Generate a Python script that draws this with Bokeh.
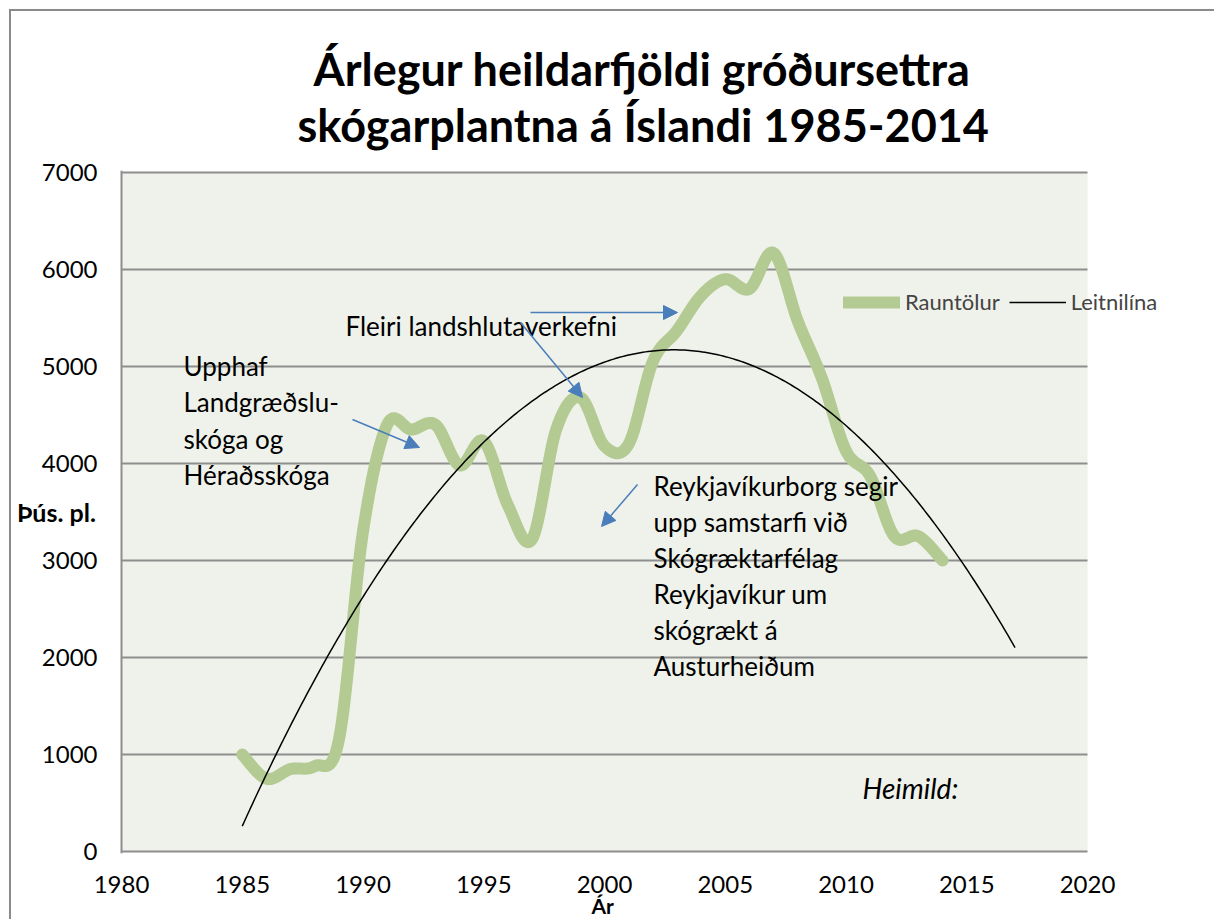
import numpy as np
from bokeh.plotting import figure
from bokeh.models import (Range1d, FixedTicker, Label, Arrow, NormalHead, Title, Span,
                          Legend, LegendItem, BoxAnnotation)
from bokeh.embed import file_html
from bokeh.resources import INLINE

# ---- data ----
years = [1985, 1986, 1987, 1988, 1989, 1990, 1991, 1992, 1993, 1994,
         1995, 1996, 1997, 1998, 1999, 2000, 2001, 2002, 2003, 2004,
         2005, 2006, 2007, 2008, 2009, 2010, 2011, 2012, 2013, 2014]
values = [1000, 750, 850, 880, 1150, 3300, 4400, 4350, 4400, 3980,
          4230, 3570, 3220, 4350, 4680, 4180, 4200, 5050, 5370, 5730,
          5900, 5800, 6170, 5470, 4880, 4130, 3870, 3250, 3250, 3000]
x_ticks = [1980, 1985, 1990, 1995, 2000, 2005, 2010, 2015, 2020]
y_ticks = [0, 1000, 2000, 3000, 4000, 5000, 6000, 7000]
trend_forward = 3
title_lines = ["Árlegur heildarfjöldi gróðursettra", "skógarplantna á Íslandi 1985-2014"]
series_names = ["Rauntölur", "Leitnilína"]
x_label = "Ár"
y_label = "Þús. pl."

FONT = "Lato"
GREEN = "#B3CB92"
BLUE = "#4A7EBB"
GRID = "#8E8E8E"
BG = "#EFF2EA"

# smoothed curve (Bezier smoothing as a spreadsheet "smoothed line")
def smooth(xs, ys, n=24):
    P = np.column_stack([xs, ys]).astype(float)
    out = []
    for i in range(len(P) - 1):
        p0 = P[i - 1] if i > 0 else P[i]
        p1 = P[i]
        p2 = P[i + 1]
        p3 = P[i + 2] if i + 2 < len(P) else P[i + 1]
        c1 = p1 + (p2 - p0) / 6.0
        c2 = p2 - (p3 - p1) / 6.0
        t = np.linspace(0, 1, n, endpoint=(i == len(P) - 2))[:, None]
        seg = ((1 - t) ** 3) * p1 + 3 * ((1 - t) ** 2) * t * c1 + 3 * (1 - t) * t * t * c2 + t ** 3 * p2
        out.append(seg)
    S = np.vstack(out)
    return S[:, 0], S[:, 1]

sx, sy = smooth(years, values)

coef = np.polyfit(np.array(years, float), np.array(values, float), 2)
tx = np.linspace(years[0], years[-1] + trend_forward, 300)
ty = np.polyval(coef, tx)

# ---- layout geometry (pixels) ----
W, H = 1214, 919
PL, PT, PB, PR = 121, 172, 851, 1087     # shaded plot area edges
PAD = 2                                  # frame a little larger so edge lines are not clipped
FL, FT, FB = PL - PAD, PT - PAD, PB + PAD
FR = 1190                                # frame right (room for the legend)
ppx = (PR - PL) / (x_ticks[-1] - x_ticks[0])         # px per year
ppv = (PB - PT) / (y_ticks[-1] - y_ticks[0])         # px per unit

def X(px):
    return x_ticks[0] + (px - PL) / ppx

def Y(py):
    return y_ticks[-1] - (py - PT) / ppv

p = figure(width=W, height=H, output_backend="svg", toolbar_location=None,
           x_range=Range1d(X(FL), X(FR)), y_range=Range1d(Y(FB), Y(FT)),
           min_border_left=FL, min_border_right=W - FR, min_border_top=FT,
           min_border_bottom=H - FB)
p.title = None
p.border_fill_color = "white"
p.border_fill_alpha = 0
p.background_fill_color = "white"
p.background_fill_alpha = 0
p.outline_line_color = None
p.styles = {
    "background-color": "white",
    "background-image": "linear-gradient(#8A8A8A, #8A8A8A), linear-gradient(#8A8A8A, #8A8A8A)",
    "background-position": "9px 9px, 9px 9px",
    "background-size": "100% 2px, 2px 100%",
    "background-repeat": "no-repeat, no-repeat",
}

# shaded plot area
p.add_layout(BoxAnnotation(left=x_ticks[0], right=x_ticks[-1], bottom=y_ticks[0], top=y_ticks[-1],
                           fill_color=BG, fill_alpha=1, line_color=None, level="image"))

p.xaxis.ticker = FixedTicker(ticks=x_ticks)
p.yaxis.ticker = FixedTicker(ticks=y_ticks)
for ax in (p.xaxis[0], p.yaxis[0]):
    ax.axis_line_color = None
    ax.major_tick_line_color = None
    ax.minor_tick_line_color = None
    ax.major_tick_in = 0
    ax.major_tick_out = 0
    ax.major_label_text_font = FONT
    ax.major_label_text_font_size = "24px"
    ax.major_label_text_color = "black"
p.xaxis.major_label_standoff = 22
p.yaxis.major_label_standoff = 22
p.yaxis.axis_label = y_label
p.yaxis.axis_label_orientation = "horizontal"
p.yaxis.axis_label_text_font = FONT
p.yaxis.axis_label_text_font_style = "bold"
p.yaxis.axis_label_text_font_size = "25px"
p.yaxis.axis_label_text_color = "black"
p.yaxis.axis_label_standoff = -57

p.xgrid.grid_line_color = None
p.ygrid.grid_line_color = GRID
p.ygrid.grid_line_width = 1.8
try:
    p.ygrid.cross_bounds = (x_ticks[0], x_ticks[-1])
except Exception:
    p.ygrid.grid_line_color = None
    p.segment(x0=[x_ticks[0]] * len(y_ticks), x1=[x_ticks[-1]] * len(y_ticks),
              y0=y_ticks, y1=y_ticks, line_color=GRID, line_width=1.8)
p.add_layout(Span(location=x_ticks[0], dimension="height", line_color=GRID, line_width=2))

r_green = p.line(sx, sy, line_color=GREEN, line_width=12, line_cap="round", line_join="round")
r_trend = p.line(tx, ty, line_color="black", line_width=1.5)

# titles (added nearest-first)
p.add_layout(Title(text=title_lines[1], align="left", offset=178, standoff=38,
                   text_font=FONT, text_font_style="bold", text_font_size="45px",
                   text_color="black"), "above")
p.add_layout(Title(text=title_lines[0], align="left", offset=194, standoff=-38,
                   text_font=FONT, text_font_style="bold", text_font_size="45px",
                   text_color="black"), "above")
p.add_layout(Title(text=x_label, align="left", offset=472, standoff=-10,
                   text_font=FONT, text_font_style="bold", text_font_size="21px",
                   text_color="black"), "below")

def txt(px, py, s, style="normal", size="26px"):
    p.add_layout(Label(x=X(px), y=Y(py), text=s, text_align="left", text_baseline="middle",
                       text_font=FONT, text_font_size=size, text_font_style=style,
                       text_color="black"))

for i, s in enumerate(["Upphaf", "Landgræðslu-", "skóga og", "Héraðsskóga"]):
    txt(183, 365 + i * 36.5, s)
txt(345, 325, "Fleiri landshlutaverkefni")
for i, s in enumerate(["Reykjavíkurborg segir", "upp samstarfi við", "Skógræktarfélag",
                       "Reykjavíkur um", "skógrækt á", "Austurheiðum"]):
    txt(653, 485 + i * 36, s)
txt(862, 787, "Heimild:", "italic", "28px")

def arrow(x0, y0, x1, y1):
    p.add_layout(Arrow(end=NormalHead(size=14, fill_color=BLUE, line_color=BLUE),
                       x_start=X(x0), y_start=Y(y0), x_end=X(x1), y_end=Y(y1),
                       line_color=BLUE, line_width=1.5))

arrow(530, 312, 677, 312)
arrow(520, 322, 582, 397)
arrow(352, 419, 419, 447)
arrow(637, 484, 601, 526)

legend = Legend(items=[LegendItem(label=series_names[0], renderers=[r_green]),
                       LegendItem(label=series_names[1], renderers=[r_trend])],
                location=(843 - FL, FB - 302 - 13), orientation="horizontal",
                background_fill_alpha=0, border_line_color=None,
                padding=0, margin=0, spacing=9, label_standoff=5,
                glyph_width=57, glyph_height=20, label_height=20,
                label_text_font=FONT, label_text_font_size="22px")
p.add_layout(legend, "center")

open("out.html", "w").write(file_html(p, INLINE))
